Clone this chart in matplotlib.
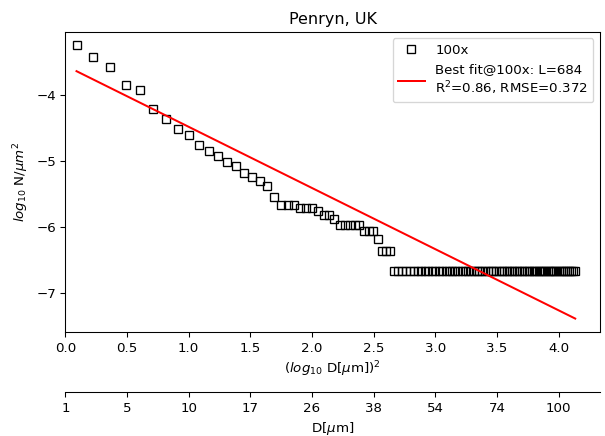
import numpy as np
import matplotlib
matplotlib.use("Agg")
import matplotlib.pyplot as plt
from matplotlib.ticker import MultipleLocator, FuncFormatter

# crater counts per diameter bin (D in um), Penryn 100x image
diameters = np.arange(2, 109)
counts = [
    2535, 1671, 1180, 653, 531, 277, 199, 140, 114, 79,
    64, 54, 44, 38, 30, 26, 23, 19, 13, 10,
    10, 10, 9, 9, 9, 8, 7, 7, 6, 5,
    5, 5, 5, 5, 4, 4, 4, 3, 2, 2,
    2, 1, 1, 1, 1, 1, 1, 1, 1, 1,
    1, 1, 1, 1, 1, 1, 1, 1, 1, 1,
    1, 1, 1, 1, 1, 1, 1, 1, 1, 1,
    1, 1, 1, 1, 1, 1, 1, 1, 1, 1,
    1, 1, 1, 1, 1, 1, 1, 1, 1, 1,
    1, 1, 1, 1, 1, 1, 1, 1, 1, 1,
    1, 1, 1, 1, 1, 1, 1,
]
area_um2 = 4.57e6

# best fit in (log10 D)^2 space
fit_intercept = -3.560
fit_slope = -0.9236
fit_label = "Best fit@100x: L=684\nR$^2$=0.86, RMSE=0.372"

x = np.log10(diameters) ** 2
y = np.log10(np.array(counts) / area_um2)
x_fit = np.array([x.min(), x.max()])
y_fit = fit_intercept + fit_slope * x_fit

fig = plt.figure(figsize=(605 / 96, 436 / 96), dpi=96)
ax = fig.add_subplot(111)
fig.subplots_adjust(left=0.108, right=0.992, top=0.927, bottom=0.238)

ax.plot(x, y, "s", mfc="none", mec="black", ms=6, label="100x")
ax.plot(x_fit, y_fit, "-", color="red", lw=1.5, label=fit_label)
ax.set_xlim(left=0)
ax.xaxis.set_major_locator(MultipleLocator(0.5))
ax.yaxis.set_major_locator(MultipleLocator(1))
ax.set_xlabel(r"($log_{10}$ D[$\mu$m])$^2$")
ax.set_ylabel(r"$log_{10}$ N/$\mu m^2$")
ax.set_title("Penryn, UK")
ax.legend(loc="upper right")

# second axis below with the matching diameters
ax2 = ax.twiny()
ax2.set_xlim(ax.get_xlim())
ax2.xaxis.set_major_locator(MultipleLocator(0.5))
ax2.xaxis.set_major_formatter(FuncFormatter(lambda v, _: f"{10 ** np.sqrt(max(v, 0)):.0f}"))
ax2.xaxis.set_ticks_position("bottom")
ax2.xaxis.set_label_position("bottom")
ax2.spines["bottom"].set_position(("outward", 45))
for side in ["top", "left", "right"]:
    ax2.spines[side].set_visible(False)
ax2.set_xlabel(r"D[$\mu$m]")

fig.savefig("out.png", dpi=96)
